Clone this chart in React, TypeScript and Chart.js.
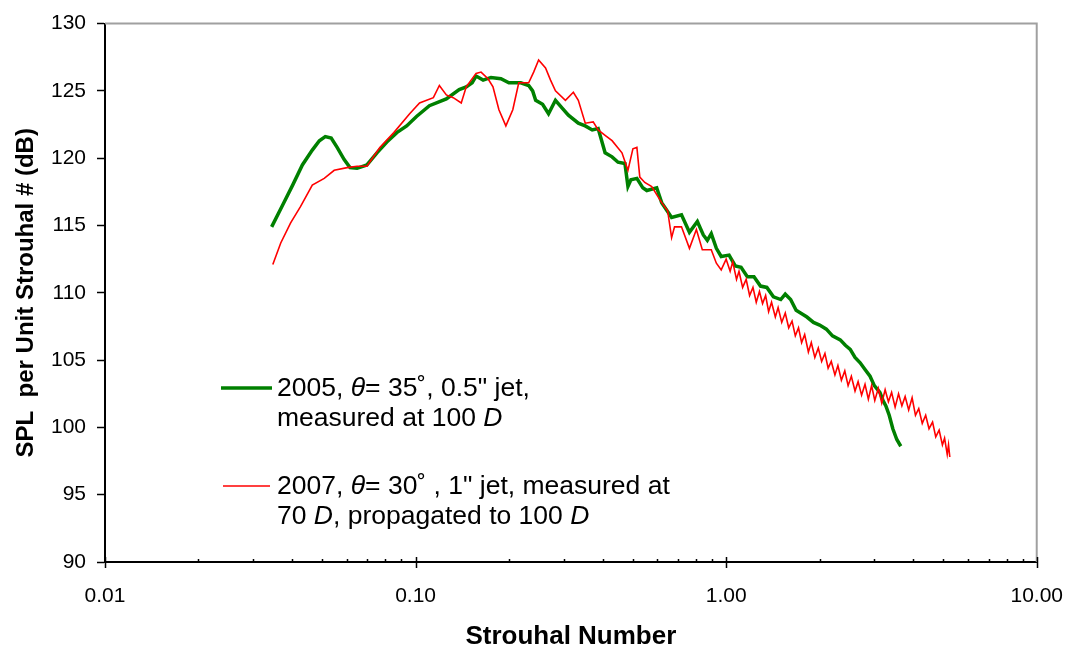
import { useEffect, useRef } from 'react';
import { Chart, registerables } from 'chart.js';

Chart.register(...registerables);

// Strouhal number (x) and SPL per unit Strouhal (dB) for each series
const ST_2005 = [0.0344, 0.0373, 0.0402, 0.0432, 0.0465, 0.049, 0.0512, 0.0535, 0.0559, 0.0589, 0.0615, 0.0648, 0.0697, 0.0751, 0.0808, 0.087, 0.0936, 0.1007, 0.1108, 0.1256, 0.1382, 0.1456, 0.1521, 0.1566, 0.165, 0.1749, 0.1883, 0.1997, 0.2181, 0.2313, 0.2382, 0.2436, 0.2564, 0.268, 0.2821, 0.297, 0.3105, 0.3342, 0.3518, 0.3705, 0.3872, 0.4076, 0.4292, 0.4486, 0.4722, 0.4828, 0.4936, 0.5159, 0.5391, 0.5552, 0.5976, 0.62, 0.6674, 0.7181, 0.7617, 0.8078, 0.8443, 0.8697, 0.8955, 0.93, 0.964, 1.022, 1.07, 1.117, 1.17, 1.229, 1.29, 1.352, 1.42, 1.499, 1.55, 1.613, 1.68, 1.736, 1.82, 1.911, 2.0, 2.102, 2.2, 2.33, 2.42, 2.509, 2.6, 2.701, 2.8, 2.906, 3.0, 3.126, 3.2, 3.268, 3.35, 3.441, 3.544, 3.65];
const SPL_2005 = [114.9, 116.5, 118.0, 119.5, 120.6, 121.3, 121.6, 121.5, 120.8, 119.9, 119.3, 119.25, 119.5, 120.4, 121.2, 121.9, 122.4, 123.1, 123.9, 124.4, 125.1, 125.3, 125.6, 126.1, 125.8, 126.0, 125.9, 125.6, 125.6, 125.4, 125.0, 124.3, 124.0, 123.3, 124.3, 123.7, 123.2, 122.6, 122.4, 122.1, 122.2, 120.4, 120.1, 119.7, 119.6, 117.9, 118.4, 118.5, 117.8, 117.6, 117.8, 116.7, 115.6, 115.8, 114.5, 115.3, 114.3, 113.9, 114.4, 113.3, 112.7, 112.8, 112.0, 111.9, 111.2, 111.2, 110.5, 110.4, 109.7, 109.5, 109.9, 109.5, 108.7, 108.5, 108.2, 107.8, 107.6, 107.3, 106.8, 106.5, 106.1, 105.8, 105.2, 104.8, 104.3, 103.8, 103.1, 102.6, 102.0, 101.6, 100.9, 99.9, 99.1, 98.6];

const ST_2007 = [0.0347, 0.0368, 0.0396, 0.0426, 0.0465, 0.0508, 0.0547, 0.0602, 0.0648, 0.0697, 0.0767, 0.0851, 0.0957, 0.103, 0.1141, 0.1193, 0.1256, 0.1322, 0.1403, 0.1456, 0.1566, 0.1625, 0.1711, 0.1775, 0.1855, 0.1953, 0.2056, 0.2149, 0.2313, 0.24, 0.249, 0.2621, 0.272, 0.2821, 0.3037, 0.3221, 0.3342, 0.3518, 0.3732, 0.3872, 0.4076, 0.4292, 0.4619, 0.4828, 0.5009, 0.5159, 0.5272, 0.547, 0.576, 0.62, 0.648, 0.6674, 0.682, 0.7181, 0.7617, 0.802, 0.838, 0.8955, 0.93, 0.964, 1.0, 1.03, 1.05, 1.08, 1.1, 1.13, 1.16, 1.19, 1.22, 1.25, 1.28, 1.31, 1.34, 1.37, 1.4, 1.44, 1.47, 1.51, 1.55, 1.59, 1.63, 1.67, 1.71, 1.75, 1.79, 1.84, 1.88, 1.93, 1.98, 2.03, 2.08, 2.13, 2.18, 2.24, 2.29, 2.35, 2.41, 2.47, 2.53, 2.6, 2.66, 2.73, 2.8, 2.87, 2.94, 3.01, 3.09, 3.17, 3.25, 3.33, 3.41, 3.5, 3.59, 3.68, 3.77, 3.87, 3.97, 4.07, 4.17, 4.28, 4.39, 4.5, 4.62, 4.73, 4.85, 4.97, 5.05, 5.15, 5.2, 5.25];
const SPL_2007 = [112.1, 113.7, 115.2, 116.4, 118.0, 118.5, 119.1, 119.3, 119.4, 119.4, 120.8, 121.9, 123.3, 124.1, 124.5, 125.4, 124.7, 124.5, 124.1, 125.3, 126.3, 126.4, 125.9, 125.3, 123.6, 122.4, 123.6, 125.6, 125.6, 126.4, 127.3, 126.7, 125.8, 125.0, 124.3, 124.9, 124.3, 122.6, 122.7, 122.1, 121.7, 121.3, 120.4, 119.1, 120.7, 120.8, 118.6, 118.2, 117.9, 116.7, 116.1, 114.1, 114.9, 114.9, 113.3, 114.7, 113.2, 113.2, 112.2, 111.7, 112.5, 111.6, 112.3, 111.0, 111.6, 110.4, 111.0, 109.8, 110.4, 109.3, 110.1, 109.2, 109.8, 108.6, 109.3, 108.2, 108.9, 107.8, 108.5, 107.4, 107.9, 106.8, 107.4, 106.3, 106.9, 105.6, 106.3, 105.2, 105.9, 104.9, 105.5, 104.4, 104.9, 103.9, 104.6, 103.5, 104.2, 103.1, 103.8, 102.7, 103.4, 102.4, 103.2, 102.1, 103.1, 102.0, 102.9, 101.8, 102.8, 101.9, 102.6, 101.5, 102.5, 101.6, 102.3, 101.3, 102.2, 100.9, 101.4, 100.3, 100.9, 99.9, 100.4, 99.3, 99.8, 98.7, 99.2, 98.0, 98.7, 97.8];

// Axis definitions
const X_MIN = 0.01;
const X_MAX = 10;
const X_MAJOR = [0.01, 0.1, 1, 10];
const X_MINOR_MULT = [2, 3, 4, 5, 6, 7, 8, 9];
const Y_MIN = 90;
const Y_MAX = 130;
const Y_STEP = 5;

const X_TITLE = 'Strouhal Number';
const Y_TITLE = 'SPL  per Unit Strouhal # (dB)';

type Seg = { t: string; i?: boolean };
const LEGEND_2005: Seg[][] = [
  [{ t: '2005, ' }, { t: 'θ', i: true }, { t: '= 35˚, 0.5" jet,' }],
  [{ t: 'measured at 100 ' }, { t: 'D', i: true }],
];
const LEGEND_2007: Seg[][] = [
  [{ t: '2007, ' }, { t: 'θ', i: true }, { t: '= 30˚ , 1" jet, measured at' }],
  [{ t: '70 ' }, { t: 'D', i: true }, { t: ', propagated to 100 ' }, { t: 'D', i: true }],
];

const GREEN = '#008000';
const RED = '#ff0000';
const FONT = '"Liberation Sans", Arial, Helvetica, sans-serif';

const overlayPlugin = {
  id: 'overlay',
  afterDraw(chart: any) {
    const ctx = chart.ctx as CanvasRenderingContext2D;
    const a = chart.chartArea;
    const xs = chart.scales.x;
    ctx.save();
    // gray frame top/right
    ctx.strokeStyle = '#a0a0a0';
    ctx.lineWidth = 2;
    ctx.beginPath();
    ctx.moveTo(a.left, a.top);
    ctx.lineTo(a.right, a.top);
    ctx.lineTo(a.right, a.bottom);
    ctx.stroke();

    // x ticks (major cross, minor inside)
    ctx.strokeStyle = '#000';
    ctx.lineWidth = 1.5;
    ctx.beginPath();
    X_MAJOR.forEach((v) => {
      const p = Math.round(xs.getPixelForValue(v)) + 0.5;
      ctx.moveTo(p, a.bottom - 5);
      ctx.lineTo(p, a.bottom + 6);
    });
    X_MAJOR.slice(0, -1).forEach((d) => {
      X_MINOR_MULT.forEach((m) => {
        const p = Math.round(xs.getPixelForValue(d * m)) + 0.5;
        ctx.moveTo(p, a.bottom - 3);
        ctx.lineTo(p, a.bottom);
      });
    });
    ctx.stroke();

    // legend
    const drawEntry = (lines: Seg[][], color: string, width: number, x1: number, x2: number, ly: number, baselines: number[]) => {
      ctx.strokeStyle = color;
      ctx.lineWidth = width;
      ctx.beginPath();
      ctx.moveTo(x1, ly);
      ctx.lineTo(x2, ly);
      ctx.stroke();
      ctx.fillStyle = '#000';
      ctx.textBaseline = 'alphabetic';
      ctx.textAlign = 'left';
      lines.forEach((segs, li) => {
        let x = 277;
        segs.forEach((s) => {
          ctx.font = `${s.i ? 'italic ' : ''}26.5px ${FONT}`;
          ctx.fillText(s.t, x, baselines[li]);
          x += ctx.measureText(s.t).width;
        });
      });
    };
    drawEntry(LEGEND_2005, GREEN, 3.5, 221, 272, 388, [396, 426]);
    drawEntry(LEGEND_2007, RED, 1.5, 223, 270, 486, [494, 524]);
    ctx.restore();
  },
};

export default function App() {
  const ref = useRef<HTMLCanvasElement | null>(null);
  useEffect(() => {
    document.body.style.margin = '0';
    const canvas = ref.current;
    if (!canvas) return;
    Chart.defaults.color = '#000';
    const chart = new Chart(canvas, {
      type: 'line',
      data: {
        datasets: [
          {
            label: '2007',
            data: ST_2007.map((x, i) => ({ x, y: SPL_2007[i] })),
            borderColor: RED,
            backgroundColor: RED,
            borderWidth: 1.6,
            pointRadius: 0,
            tension: 0,
          },
          {
            label: '2005',
            data: ST_2005.map((x, i) => ({ x, y: SPL_2005[i] })),
            borderColor: GREEN,
            backgroundColor: GREEN,
            borderWidth: 3.5,
            pointRadius: 0,
            tension: 0,
          },
        ],
      },
      options: {
        animation: false,
        responsive: false,
        devicePixelRatio: 1,
        layout: { padding: { left: 0, right: 30, top: 23, bottom: 0 } },
        plugins: { legend: { display: false }, tooltip: { enabled: false } },
        scales: {
          x: {
            type: 'logarithmic',
            min: X_MIN,
            max: X_MAX,
            afterBuildTicks: (scale: any) => {
              scale.ticks = X_MAJOR.map((v) => ({ value: v, major: true }));
            },
            afterFit: (scale: any) => {
              scale.height = 90;
            },
            ticks: {
              autoSkip: false,
              maxRotation: 0,
              padding: 14,
              color: '#000',
              font: { family: FONT, size: 21 },
              callback: (v: any) => Number(v).toFixed(2),
            },
            grid: { display: true, drawOnChartArea: false, drawTicks: true, tickLength: 8, color: 'rgba(0,0,0,0)' },
            border: { display: true, color: '#000', width: 2 },
            title: {
              display: true,
              text: X_TITLE,
              color: '#000',
              font: { family: FONT, size: 26, weight: 'bold' },
              padding: { top: 0, bottom: 0 },
            },
          },
          y: {
            type: 'linear',
            min: Y_MIN,
            max: Y_MAX,
            afterFit: (scale: any) => {
              scale.width = 105;
            },
            ticks: {
              stepSize: Y_STEP,
              padding: 11,
              color: '#000',
              font: { family: FONT, size: 21 },
            },
            grid: { display: true, drawOnChartArea: false, drawTicks: true, tickLength: 8, tickColor: '#000', tickWidth: 1.5, color: '#000' },
            border: { display: true, color: '#000', width: 2 },
            title: {
              display: true,
              text: Y_TITLE,
              color: '#000',
              font: { family: FONT, size: 24, weight: 'bold' },
              padding: { top: 12, bottom: 0 },
            },
          },
        },
      },
      plugins: [overlayPlugin],
    } as any);
    return () => chart.destroy();
  }, []);
  return (
    <div style={{ width: 1077, height: 652, background: '#fff' }}>
      <canvas ref={ref} width={1077} height={652} style={{ display: 'block' }} />
    </div>
  );
}
